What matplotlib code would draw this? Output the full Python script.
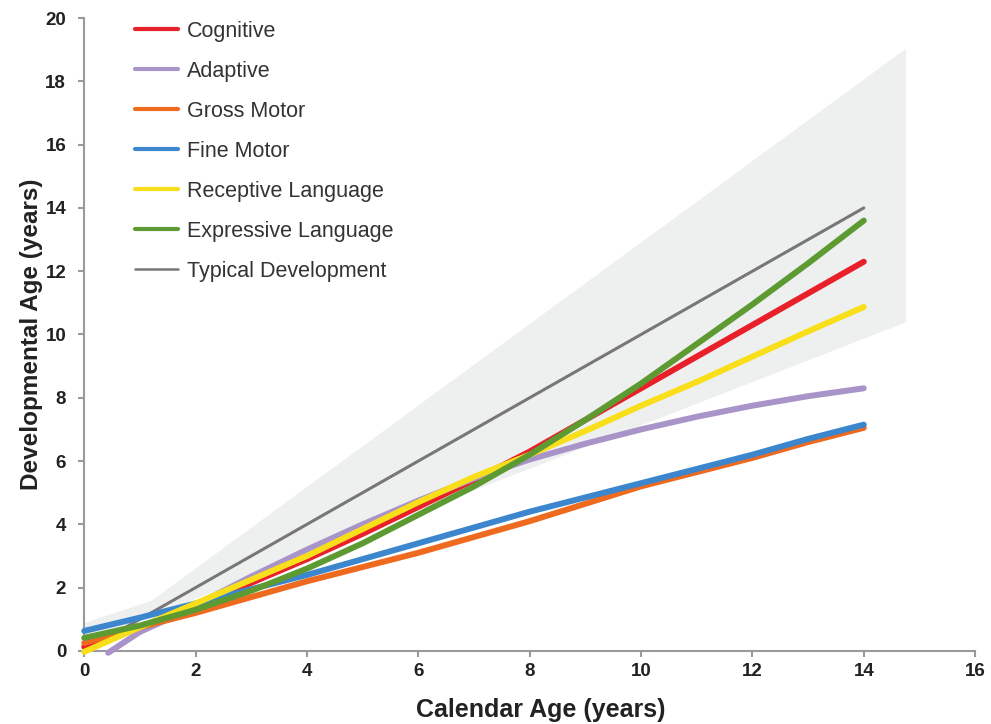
import numpy as np
import matplotlib
matplotlib.use('Agg')
import matplotlib.pyplot as plt

plt.rcParams['font.family'] = ['Liberation Sans', 'DejaVu Sans']

# 曲线数据
age = [0, 1, 2, 3, 4, 5, 6, 7, 8, 9, 10, 11, 12, 13, 14]
cognitive = [0.13, 0.75, 1.45, 2.15, 2.9, 3.7, 4.55, 5.4, 6.3, 7.3, 8.3, 9.3, 10.3, 11.3, 12.3]
adaptive_x = [0.43, 1, 1.5, 2, 3, 4, 5, 6, 7, 8, 9, 10, 11, 12, 13, 14]
adaptive = [-0.06, 0.6, 1.0, 1.45, 2.35, 3.2, 4.0, 4.75, 5.45, 6.05, 6.55, 7.0, 7.4, 7.75, 8.05, 8.3]
gross_motor = [0.25, 0.75, 1.2, 1.7, 2.2, 2.65, 3.1, 3.6, 4.1, 4.65, 5.2, 5.65, 6.1, 6.6, 7.05]
fine_motor = [0.63, 1.05, 1.5, 1.95, 2.4, 2.9, 3.4, 3.9, 4.4, 4.85, 5.3, 5.75, 6.2, 6.7, 7.15]
receptive = [-0.03, 0.75, 1.5, 2.25, 3.0, 3.85, 4.7, 5.5, 6.2, 6.95, 7.75, 8.5, 9.3, 10.1, 10.87]
expressive = [0.41, 0.8, 1.3, 1.9, 2.6, 3.4, 4.3, 5.2, 6.2, 7.3, 8.45, 9.7, 10.95, 12.25, 13.6]
typical_x = [0, 14]
typical = [0, 14]

# 灰色区间（上下边界）
band_x = [0, 1.2, 14.75]
band_upper = [0.9, 1.6, 19.05]
band_lower = [0.3, 1.12, 10.4]

names = ['Cognitive', 'Adaptive', 'Gross Motor', 'Fine Motor',
         'Receptive Language', 'Expressive Language', 'Typical Development']
colors = ['#e8202a', '#a994c9', '#ee6a1f', '#3b86cc', '#f8df1a', '#5e9a32', '#777777']

series_x = [age, adaptive_x, age, age, age, age, typical_x]
series_y = [cognitive, adaptive, gross_motor, fine_motor, receptive, expressive, typical]

fig = plt.figure(figsize=(9.91, 7.24), dpi=100)
ax = fig.add_axes([0.085, 0.101, 0.899, 0.874])

ax.fill_between(band_x, band_lower, band_upper, color='#eef0f0', lw=0, zorder=1)

handles = []
for name, xs, ys, color in zip(names, series_x, series_y, colors):
    lw = 2.2 if name == 'Typical Development' else 4.3
    z = 2.5 if name == 'Typical Development' else 3
    h, = ax.plot(xs, ys, color=color, lw=lw, solid_capstyle='round',
                 solid_joinstyle='round', label=name, clip_on=False, zorder=z)
    handles.append(h)

ax.set_xlim(0, 16)
ax.set_ylim(0, 20)
ax.set_xticks(range(0, 17, 2))
ax.set_yticks(range(0, 21, 2))

for s in ['top', 'right']:
    ax.spines[s].set_visible(False)
for s in ['left', 'bottom']:
    ax.spines[s].set_color('#9a9a9a')
    ax.spines[s].set_linewidth(1.5)
ax.tick_params(colors='#9a9a9a', width=1.5, length=4, labelcolor='#222222',
               labelsize=13.5)
ax.tick_params(axis='x', pad=5)
ax.tick_params(axis='y', pad=9)
for lab in ax.get_xticklabels() + ax.get_yticklabels():
    lab.set_fontweight('bold')

ax.set_xlabel('Calendar Age (years)', fontsize=18, fontweight='bold',
              color='#222222')
ax.xaxis.set_label_coords(0.512, -0.075)
ax.set_ylabel('Developmental Age (years)', fontsize=17.5, fontweight='bold',
              color='#222222', labelpad=2)

leg = ax.legend(handles=handles, loc='upper left', bbox_to_anchor=(0.136, 0.971),
                bbox_transform=fig.transFigure, borderpad=0, borderaxespad=0,
                frameon=False, fontsize=15.5, handlelength=2.0, handletextpad=0.42,
                labelspacing=0.88)
for t in leg.get_texts():
    t.set_color('#333333')
for ln in leg.get_lines():
    ln.set_linewidth(3.0 if ln.get_color() != '#777777' else 1.8)

fig.savefig('out.png', dpi=100, facecolor='white')
